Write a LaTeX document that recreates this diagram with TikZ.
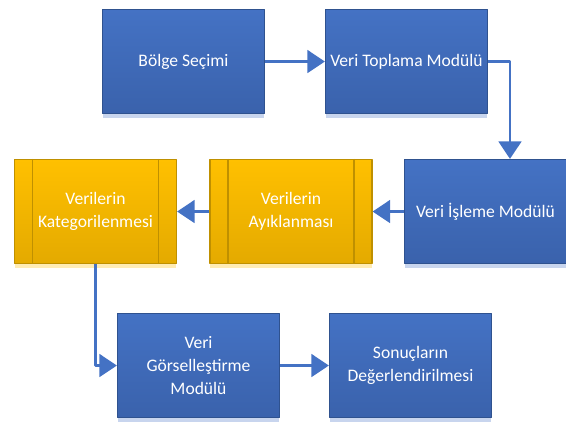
\documentclass[tikz,border=0pt]{standalone}
\usepackage{fontspec}
\setmainfont{Carlito}
\usetikzlibrary{arrows.meta,shadows}

\definecolor{boxblue}{RGB}{68,114,196}
\definecolor{boxblueb}{RGB}{58,98,172}
\definecolor{edgeblue}{RGB}{47,82,143}
\definecolor{shadeblue}{RGB}{200,213,238}
\definecolor{boxgold}{RGB}{255,192,0}
\definecolor{boxgoldb}{RGB}{228,170,0}
\definecolor{edgegold}{RGB}{191,144,0}
\definecolor{shadegold}{RGB}{255,236,180}
\definecolor{linkblue}{RGB}{68,114,196}

\begin{document}
\begin{tikzpicture}[x=0.02cm, y=-0.02cm, font=\fontsize{10}{13}\selectfont,
	line join=round,
	module/.style={draw=edgeblue, line width=0.7pt, top color=boxblue, bottom color=boxblueb,
		text=white, align=center, minimum width=3.24cm, minimum height=2.08cm, inner sep=2pt,
		drop shadow={shadow xshift=0pt, shadow yshift=-0.1cm, fill=shadeblue, opacity=1}},
	process/.style={module, draw=edgegold, top color=boxgold, bottom color=boxgoldb,
		drop shadow={shadow xshift=0pt, shadow yshift=-0.1cm, fill=shadegold, opacity=1}},
	sideline/.style={draw=edgegold, line width=0.7pt},
	link/.style={draw=linkblue, line width=1.3pt, -{Triangle[length=10pt,width=13pt]}}]

	\useasboundingbox (0,0) rectangle (566,424);

	% first row
	\node[module] (bolge) at (183.5,61.5) {Bölge Seçimi};
	\node[module] (toplama) at (406.5,61.5) {Veri Toplama Modülü};

	% second row
	\node[module] (isleme) at (485.5,211.5) {Veri İşleme Modülü};
	\node[process] (ayik) at (291,211.5) {Verilerin\\Ayıklanması};
	\node[process] (kateg) at (95.5,211.5) {Verilerin\\Kategorilenmesi};
	\foreach \n in {ayik,kateg} {
		\draw[sideline] ([xshift=0.37cm]\n.north west) -- ([xshift=0.37cm]\n.south west);
		\draw[sideline] ([xshift=-0.37cm]\n.north east) -- ([xshift=-0.37cm]\n.south east);
	}

	% third row
	\node[module] (gorsel) at (198.5,365.5) {Veri\\Görselleştirme\\Modülü};
	\node[module] (sonuc) at (410.5,365.5) {Sonuçların\\Değerlendirilmesi};

	\draw[link] (bolge) -- (toplama);
	\draw[link] (toplama.east) -| ([xshift=0.49cm]isleme.north);
	\draw[link] (isleme) -- (ayik);
	\draw[link] (ayik) -- (kateg);
	\draw[link] (kateg.south) |- (gorsel.west);
	\draw[link] (gorsel) -- (sonuc);
\end{tikzpicture}
\end{document}
